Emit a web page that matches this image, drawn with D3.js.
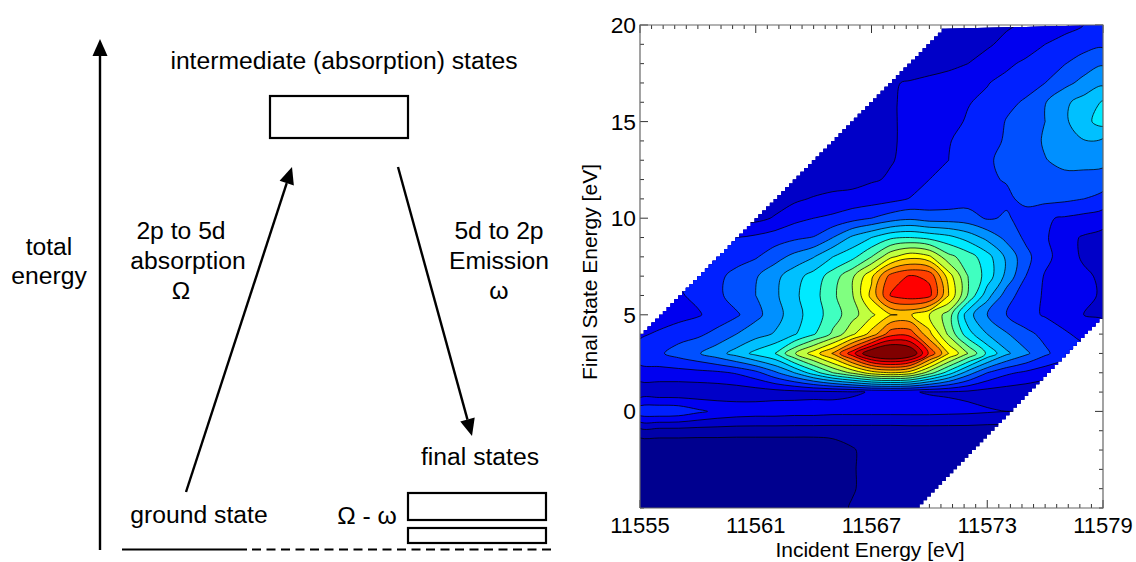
<!DOCTYPE html>
<html><head><meta charset="utf-8">
<script src="https://cdn.jsdelivr.net/npm/d3@7"></script>
<style>html,body{margin:0;background:#fff}svg{display:block}text{font-family:"Liberation Sans",Arial,sans-serif;fill:#000}</style>
</head><body><svg id="c" width="1136" height="562"></svg>
<script>
const incidentStart = 11555, incidentEnd = 11579;
const finalTop = 20, finalBottom = -5;
const xTickValues = [11555, 11561, 11567, 11573, 11579];
const yTickValues = [0, 5, 10, 15, 20];
// contour level at 1 eV steps; each row runs along its valid incident range
const r20 = [1.3,1.5,1.7,1.9,2.1,2.4,2.7,3.0,3.3];
const r19 = [1.2,1.4,1.6,1.9,2.2,2.5,3.0,3.3,3.6,3.8];
const r18 = [1.3,1.5,1.7,2.0,2.3,2.8,3.2,3.6,3.95,4.5,4.9];
const r17 = [1.9,2.1,2.3,2.5,2.75,2.95,3.3,3.7,4.0,4.7,5.3,5.8];
const r16 = [1.5,1.9,2.2,2.4,2.6,2.95,3.2,3.8,4.1,4.95,5.8,6.4,7.1];
const r15 = [1.3,1.6,1.9,2.2,2.4,2.7,3.1,3.5,4.05,4.5,5.0,5.8,6.7,7.4];
const r14 = [1.2,1.5,1.7,1.9,2.2,2.5,2.95,3.3,3.7,4.1,4.4,5.15,5.8,5.95,5.8];
const r13 = [1.1,1.3,1.5,1.7,1.95,2.2,2.7,3.0,3.4,3.9,4.2,4.5,4.95,5.3,5.4,5.4];
const r12 = [1.1,1.3,1.5,1.6,1.9,2.1,2.4,3.0,3.2,3.5,3.9,4.05,4.4,4.6,4.7,4.6,4.4];
const r11 = [1.5,1.8,2.1,2.3,2.4,2.5,2.7,3.05,3.3,3.4,3.6,3.7,3.85,4.2,4.3,4.2,4.0,3.75];
const r10 = [1.7,2.1,2.7,3.0,3.2,3.6,4.0,4.5,4.8,4.5,4.5,4.4,3.9,4.1,3.7,3.1,2.9,2.7,2.4];
const r9 = [3.0,3.2,3.5,3.8,4.05,5.0,6.2,7.0,7.8,8.0,7.7,7.3,6.6,5.7,4.7,3.8,3.15,2.3,1.9,1.7];
const r8 = [3.1,3.5,3.9,4.6,5.3,5.95,7.0,7.7,9.0,10.8,11.7,11.2,9.3,8.5,7.4,5.8,4.3,3.3,2.5,1.85,1.7];
const r7 = [3.1,3.7,4.4,4.9,5.7,6.6,7.4,8.5,9.8,11.8,14.4,15.1,14.8,11.5,9.0,7.6,5.7,4.0,2.9,2.6,2.2,1.8];
const r6 = [2.9,3.2,3.75,4.5,5.0,5.8,6.8,7.6,8.8,9.9,12.3,15.1,15.6,15.3,12.0,8.9,6.4,4.5,3.4,2.9,2.7,2.3,1.85];
const r5 = [2.3,2.6,2.9,3.4,3.85,4.7,5.55,6.6,7.5,8.5,9.6,10.8,11.95,12.1,11,9.5,6.4,5.0,4.0,3.3,2.9,2.5,2.0,1.8];
const r4 = [2.8,3.2,3.6,3.8,4.3,5.0,5.6,6.1,6.9,7.9,9.2,10.8,12.4,14.6,14.6,12.3,9.8,7.4,6.0,5.1,4.3,3.7,3.15,2.7];
const r3 = [3.6,3.85,4.4,4.9,5.6,6.4,7.3,8.0,9.9,11.5,13.1,15.6,18.2,19.0,18.2,14.8,12,10,7.8,6.2,5.2,4.2,3.4];
const r2 = [2.6,2.6,2.6,2.7,2.8,3.1,3.7,4.8,6,7.5,9,10.2,11.5,12,11.5,9.5,7.5,5.5,4,3.2,2.8,2.4];
const r1 = [1.3,1.3,1.3,1.3,1.35,1.4,1.5,1.6,1.7,1.75,1.8,1.9,2.05,2.1,2.05,1.95,1.9,1.8,1.6,1.5,1.4];
const r0 = [3.7,3.8,3.7,3.2,2.8,2.6,2.5,2.5,2.4,2.4,2.3,2.3,2.3,2.3,2.3,2.3,2.25,2.2,2.1,2.0];
const rm1 = [.6,.6,.6,.55,.55,.5,.5,.5,.5,.5,.5,.5,.5,.5,.55,.55,.55,.55,.5];
const rm2 = [-1,-1,-1,-1,-1,-1,-1,-1,-1,-1,-.7,-.1,.4,.4,.4,.4,.4,.4];
const rm3 = [-1,-1,-1,-1,-1,-1,-1,-1,-1,-1,-.6,-.1,.4,.4,.4,.4,.4];
const rm4 = [-1,-1,-1,-1,-1,-1,-1,-1,-1,-1,-.5,-.1,.4,.4,.4,.4];
const rm5 = [-1,-1,-1,-1,-1,-1,-1,-1,-1,-1,-.4,.1,.4,.4,.4];
const rows = [r20,r19,r18,r17,r16,r15,r14,r13,r12,r11,r10,r9,r8,r7,r6,r5,r4,r3,r2,r1,r0,rm1,rm2,rm3,rm4,rm5];
const baseColor = "#00008f";
const bandColors = ["#0000a8","#0000c8","#0000f0","#0020ff","#0050ff","#0090ff","#00c0ff","#00eaff","#40ffc0","#80ff80","#c0ff40","#ffff00","#ffc000","#ff8000","#ff4000","#ff0000","#c80000","#800000"];

const svg = d3.select("#c");
const x = d3.scaleLinear().domain([incidentStart, incidentEnd]).range([640, 1103]);
const y = d3.scaleLinear().domain([finalBottom, finalTop]).range([508, 25]);
const nx = incidentEnd - incidentStart + 1, ny = finalTop - finalBottom + 1;

// place every row on the full rectangle; cells past the data edge repeat the nearest value and are clipped away
const grid = [];
rows.forEach((row, j) => {
  const fy = finalTop - j;
  const start = Math.max(0, fy + 51 - 55);
  for (let i = 0; i < nx; i++) grid.push(row[Math.max(0, Math.min(row.length - 1, i - start))]);
});

// axes under the map: ticks on all four sides, pointing inward
const axisG = svg.append("g");
const tick = "#333";
d3.range(incidentStart, incidentEnd + .01, .6).forEach(v => {
  const major = xTickValues.some(t => Math.abs(t - v) < .01);
  const l = major ? 8 : 4;
  axisG.append("line").attr("x1", x(v)).attr("x2", x(v)).attr("y1", y(finalBottom)).attr("y2", y(finalBottom) - l).attr("stroke", tick);
  axisG.append("line").attr("x1", x(v)).attr("x2", x(v)).attr("y1", y(finalTop)).attr("y2", y(finalTop) + l).attr("stroke", tick);
});
d3.range(finalBottom, finalTop + .01, 1).forEach(v => {
  const major = yTickValues.includes(v);
  const l = major ? 8 : 4;
  axisG.append("line").attr("y1", y(v)).attr("y2", y(v)).attr("x1", x(incidentStart)).attr("x2", x(incidentStart) + l).attr("stroke", tick);
  axisG.append("line").attr("y1", y(v)).attr("y2", y(v)).attr("x1", x(incidentEnd)).attr("x2", x(incidentEnd) - l).attr("stroke", tick);
});

// stepped data edge, as in the rasterised original
const stepE = .2;
const upper = [], lower = [];
d3.range(0, 16.0, stepE).forEach(d => {
  upper.push([incidentStart + d * .99, 4 + d]);
  upper.push([incidentStart + (d + stepE) * .99, 4 + d]);
});
d3.range(0, 10.0, stepE).forEach(d => {
  lower.push([incidentEnd - d * .97, 5 - d]);
  lower.push([incidentEnd - d * .97, 5 - d - stepE]);
});
const clipPts = [[incidentStart, finalBottom], [incidentStart, 4], ...upper, [incidentEnd, finalTop], [incidentEnd, 5], ...lower, [incidentEnd - 9.7, finalBottom]]
  .map(p => [x(p[0]), y(Math.max(finalBottom, Math.min(finalTop, p[1])))]);
svg.append("clipPath").attr("id", "dataEdge").append("path").attr("d", d3.line()(clipPts) + "Z");

const map = svg.append("g").attr("clip-path", "url(#dataEdge)");
map.append("rect").attr("x", x(incidentStart)).attr("y", y(finalTop)).attr("width", x(incidentEnd) - x(incidentStart)).attr("height", y(finalBottom) - y(finalTop)).attr("fill", baseColor);
const contours = d3.contours().size([nx, ny]).thresholds(d3.range(0, bandColors.length))(grid);
const smooth = d3.line().curve(d3.curveCatmullRomClosed.alpha(.5));
const toPx = p => [x(incidentStart + p[0] - .5), y(finalTop - (p[1] - .5))];
const ringsPath = mp => mp.coordinates.map(poly => poly.map(ring => smooth(ring.slice(0, -1).map(toPx))).join("")).join("");
map.selectAll("path").data(contours).join("path")
  .attr("d", ringsPath).attr("fill-rule", "evenodd").attr("fill", d => bandColors[d.value]).attr("stroke", "#000").attr("stroke-width", .9).attr("stroke-opacity", .85).attr("stroke-linejoin", "round");

// frame
svg.append("path").attr("fill", "none").attr("stroke", "#666").attr("stroke-width", 1.2)
  .attr("d", `M${x(incidentStart)},${y(finalBottom)}V${y(finalTop)}H${x(incidentEnd)}V${y(finalBottom)}H${x(incidentStart)}`);

// tick labels and titles
xTickValues.forEach(v => svg.append("text").attr("x", x(v)).attr("y", 533).attr("text-anchor", "middle").attr("font-size", 22).text(v));
yTickValues.forEach(v => svg.append("text").attr("x", 636).attr("y", y(v) + 8).attr("text-anchor", "end").attr("font-size", 22.8).text(v));
svg.append("text").attr("x", 870).attr("y", 556.5).attr("text-anchor", "middle").attr("font-size", 21).text("Incident Energy [eV]");
svg.append("text").attr("transform", "translate(597,272) rotate(-90)").attr("text-anchor", "middle").attr("font-size", 21).text("Final State Energy [eV]");

// energy-level schematic
const labels = [
  ["intermediate (absorption) states", 344, 69],
  ["total", 49, 255], ["energy", 49, 284],
  ["2p to 5d", 181, 239], ["absorption", 188, 269], ["Ω", 181, 299],
  ["5d to 2p", 499, 239], ["Emission", 499, 269], ["ω", 499, 299],
  ["final states", 480, 465], ["ground state", 199, 523], ["Ω - ω", 367, 524]
];
labels.forEach(l => svg.append("text").attr("x", l[1]).attr("y", l[2]).attr("text-anchor", "middle").attr("font-size", 24.7).text(l[0]));
const boxes = [[270, 96, 138, 42], [408, 493, 138, 27], [408, 528, 138, 15]];
boxes.forEach(b => svg.append("rect").attr("x", b[0]).attr("y", b[1]).attr("width", b[2]).attr("height", b[3]).attr("fill", "none").attr("stroke", "#000").attr("stroke-width", 2.2));
svg.append("line").attr("x1", 122).attr("x2", 247).attr("y1", 549.5).attr("y2", 549.5).attr("stroke", "#000").attr("stroke-width", 2.2);
svg.append("line").attr("x1", 252).attr("x2", 553).attr("y1", 549.5).attr("y2", 549.5).attr("stroke", "#000").attr("stroke-width", 2).attr("stroke-dasharray", "9 5.5");
const arrows = [[100, 550, 100, 39], [186, 492, 292, 167], [398, 167, 472, 436]];
arrows.forEach(a => {
  const ang = Math.atan2(a[3] - a[1], a[2] - a[0]), L = 17, W = 7.5;
  const bx = a[2] - L * Math.cos(ang), by = a[3] - L * Math.sin(ang);
  svg.append("line").attr("x1", a[0]).attr("y1", a[1]).attr("x2", bx).attr("y2", by).attr("stroke", "#000").attr("stroke-width", 2.4);
  svg.append("path").attr("fill", "#000").attr("d", d3.line()([[a[2], a[3]], [bx - W * Math.sin(ang), by + W * Math.cos(ang)], [bx + W * Math.sin(ang), by - W * Math.cos(ang)]]) + "Z");
});
</script></body></html>
